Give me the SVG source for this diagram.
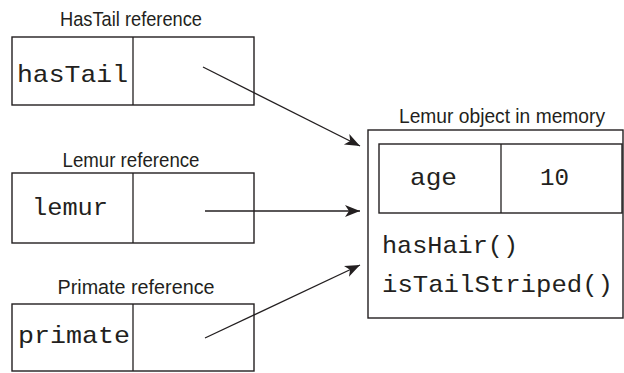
<svg xmlns="http://www.w3.org/2000/svg" width="624" height="373" viewBox="0 0 624 373">
<style>
.box{fill:#fff;stroke:#231f20;stroke-width:1.4}
.lbl{font-family:"Liberation Sans",Arial,sans-serif;font-size:20.5px;fill:#231f20;text-anchor:middle}
.mono{font-family:"Liberation Mono","Courier New",monospace;font-size:24px;fill:#231f20}
.conn{stroke:#231f20;stroke-width:1.3;fill:none}
</style>
<defs>
<marker id="arr" markerUnits="userSpaceOnUse" markerWidth="16" markerHeight="14" viewBox="0 0 16 14" refX="15" refY="7" orient="auto">
<path d="M0,1 L15,7 L0,13 L4,7 Z" fill="#231f20"/>
</marker>
</defs>
<rect width="624" height="373" fill="#fff"/>
<g id="hasTail">
<text class="lbl" x="131" y="26" textLength="142" lengthAdjust="spacingAndGlyphs">HasTail reference</text>
<rect class="box" x="12" y="37" width="242" height="68"/>
<line class="conn" x1="133" y1="37" x2="133" y2="105"/>
<text class="mono" x="17" y="82" textLength="111" lengthAdjust="spacingAndGlyphs">hasTail</text>
</g>
<g id="lemur">
<text class="lbl" x="131" y="167" textLength="137" lengthAdjust="spacingAndGlyphs">Lemur reference</text>
<rect class="box" x="12" y="173" width="242" height="70"/>
<line class="conn" x1="133" y1="173" x2="133" y2="243"/>
<text class="mono" x="32" y="215" textLength="76" lengthAdjust="spacingAndGlyphs">lemur</text>
</g>
<g id="primate">
<text class="lbl" x="136" y="294" textLength="157" lengthAdjust="spacingAndGlyphs">Primate reference</text>
<rect class="box" x="12" y="304" width="242" height="67"/>
<line class="conn" x1="133" y1="304" x2="133" y2="371"/>
<text class="mono" x="18" y="343" textLength="112" lengthAdjust="spacingAndGlyphs">primate</text>
</g>
<g id="lemurObject">
<text class="lbl" x="502" y="123" textLength="206" lengthAdjust="spacingAndGlyphs">Lemur object in memory</text>
<rect class="box" x="368" y="130" width="255" height="188"/>
<rect class="box" x="379" y="144" width="243" height="69"/>
<line class="conn" x1="501" y1="144" x2="501" y2="213"/>
<text class="mono" x="410" y="185" textLength="47" lengthAdjust="spacingAndGlyphs">age</text>
<text class="mono" x="540" y="185" textLength="29" lengthAdjust="spacingAndGlyphs">10</text>
<text class="mono" x="382" y="253" textLength="136" lengthAdjust="spacingAndGlyphs">hasHair()</text>
<text class="mono" x="382" y="292" textLength="231" lengthAdjust="spacingAndGlyphs">isTailStriped()</text>
</g>
<g id="connectors">
<line class="conn" x1="203" y1="67" x2="360" y2="146" marker-end="url(#arr)"/>
<line class="conn" x1="205" y1="211" x2="360" y2="211" marker-end="url(#arr)"/>
<line class="conn" x1="205" y1="338" x2="360" y2="265" marker-end="url(#arr)"/>
</g>
</svg>
